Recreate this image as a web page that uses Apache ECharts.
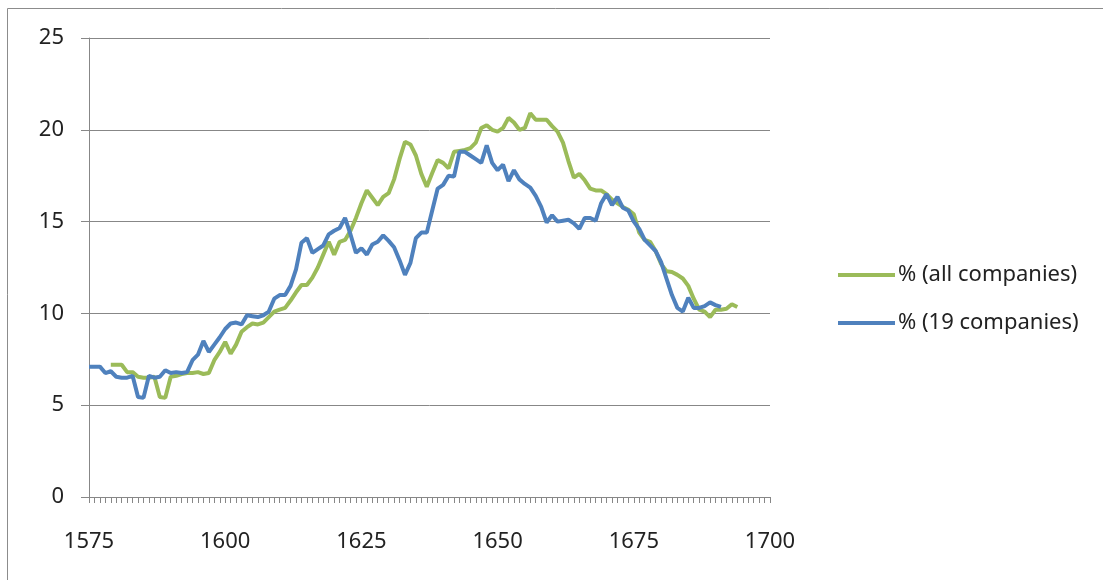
<!DOCTYPE html>
<html>
<head>
<meta charset="utf-8">
<title></title>
<script src="https://cdn.jsdelivr.net/npm/echarts@6/dist/echarts.min.js"></script>
<style>
  html, body { margin: 0; padding: 0; background: #fff; }
</style>
</head>
<body>
<div id="main" style="width: 1103px;height:580px;"></div>
<script type="text/javascript">
// years covered by each series
var allStart = 1579
var nineteenStart = 1575
var xTicks = [1575, 1600, 1625, 1650, 1675, 1700]

// % (all companies), one value per year from 1579
var allCompanies = [
    7.2, 7.2, 7.2, 6.8, 6.8, 6.55, 6.5, 6.5, 6.55, 5.45,
    5.4, 6.55, 6.6, 6.7, 6.75, 6.75, 6.8, 6.7, 6.75, 7.45,
    7.9, 8.45, 7.8, 8.3, 9.0, 9.25, 9.45, 9.4, 9.5, 9.8,
    10.1, 10.2, 10.3, 10.7, 11.15, 11.55, 11.55, 11.95, 12.5, 13.2,
    13.9, 13.2, 13.9, 14.0, 14.5, 15.2, 16.0, 16.7, 16.3, 15.9,
    16.35, 16.55, 17.3, 18.4, 19.35, 19.2, 18.6, 17.6, 16.9, 17.65,
    18.35, 18.2, 17.9, 18.8, 18.85, 18.9, 19.0, 19.3, 20.1, 20.25,
    20.0, 19.9, 20.1, 20.65, 20.4, 20.0, 20.1, 20.9, 20.55, 20.55,
    20.55, 20.2, 19.9, 19.3, 18.3, 17.4, 17.6, 17.25, 16.8, 16.7,
    16.7, 16.5, 16.2, 16.0, 15.8, 15.65, 15.4, 14.4, 14.0, 13.9,
    13.4, 12.7, 12.3, 12.25, 12.1, 11.9, 11.5, 10.8, 10.2, 10.1,
    9.8, 10.2, 10.2, 10.25, 10.5, 10.35
]

// % (19 companies), one value per year from 1575
var nineteenCompanies = [
    7.1, 7.1, 7.1, 6.75, 6.85, 6.55, 6.5, 6.5, 6.6, 5.45,
    5.4, 6.6, 6.5, 6.55, 6.9, 6.75, 6.8, 6.75, 6.8, 7.45,
    7.75, 8.5, 7.9, 8.3, 8.7, 9.15, 9.45, 9.5, 9.4, 9.9,
    9.85, 9.8, 9.9, 10.1, 10.8, 11.0, 11.0, 11.5, 12.4, 13.85,
    14.1, 13.3, 13.5, 13.7, 14.3, 14.5, 14.65, 15.2, 14.3, 13.3,
    13.55, 13.2, 13.75, 13.9, 14.25, 13.95, 13.6, 12.9, 12.1, 12.75,
    14.1, 14.4, 14.4, 15.6, 16.8, 17.0, 17.5, 17.45, 18.8, 18.8,
    18.6, 18.4, 18.2, 19.15, 18.2, 17.8, 18.1, 17.2, 17.8, 17.3,
    17.05, 16.85, 16.4, 15.8, 14.95, 15.35, 15.0, 15.05, 15.1, 14.9,
    14.6, 15.2, 15.2, 15.05, 16.0, 16.5, 15.9, 16.35, 15.75, 15.6,
    15.0, 14.6, 14.0, 13.7, 13.4, 12.8, 11.9, 11.0, 10.3, 10.1,
    10.85, 10.3, 10.3, 10.4, 10.6, 10.45, 10.35
]

var myChart = echarts.init(document.getElementById('main'))

// turn a yearly list into [year, value] pairs
var toPairs = function(start, arr) {
    var out = []
    for (var i = 0; i < arr.length; i++) {
        out.push([start + i, arr[i]])
    }
    return out
}

var font = 'Noto Sans'
var gray = '#878787'

var option = {
    animation: false,
    textStyle: { fontFamily: font },
    // chart frame, only left and top edges show in the picture
    graphic: [{
        type: 'polyline',
        shape: { points: [[7.5, 580], [7.5, 8.5], [1103, 8.5]] },
        style: { fill: 'none', stroke: '#8c8c8c', lineWidth: 1 },
        silent: true
    }],
    grid: { left: 89, top: 38, right: 333, bottom: 83 },
    legend: {
        orient: 'vertical',
        left: 833,
        top: 259,
        icon: 'rect',
        itemWidth: 57,
        itemHeight: 4,
        itemGap: 26,
        textStyle: { fontSize: 22, color: '#222', fontFamily: font, padding: [0, 0, 0, -2] },
        data: ['% (all companies)', '% (19 companies)']
    },
    xAxis: {
        type: 'value',
        min: 1575,
        max: 1700,
        interval: 25,
        axisLine: { show: true, onZero: false, lineStyle: { color: gray } },
        axisTick: { show: true, length: 6, lineStyle: { color: gray } },
        minorTick: { show: true, splitNumber: 25, length: 6, lineStyle: { color: gray } },
        splitLine: { show: false },
        axisLabel: {
            color: '#222', fontSize: 22, margin: 34,
            customValues: xTicks,
            formatter: function(v) { return String(v) }
        }
    },
    yAxis: {
        type: 'value',
        min: 0,
        max: 25,
        interval: 5,
        axisLine: { show: true, lineStyle: { color: gray } },
        axisTick: { show: true, length: 8, lineStyle: { color: gray } },
        splitLine: { show: true, lineStyle: { color: gray } },
        axisLabel: { color: '#222', fontSize: 22, margin: 25 }
    },
    series: [{
        name: '% (all companies)',
        type: 'line',
        symbol: 'none',
        color: '#9bbb59',
        lineStyle: { width: 4, color: '#9bbb59' },
        data: toPairs(allStart, allCompanies)
    }, {
        name: '% (19 companies)',
        type: 'line',
        symbol: 'none',
        color: '#4f81bd',
        lineStyle: { width: 4, color: '#4f81bd' },
        data: toPairs(nineteenStart, nineteenCompanies)
    }]
}
myChart.setOption(option)
</script>
</body>
</html>
